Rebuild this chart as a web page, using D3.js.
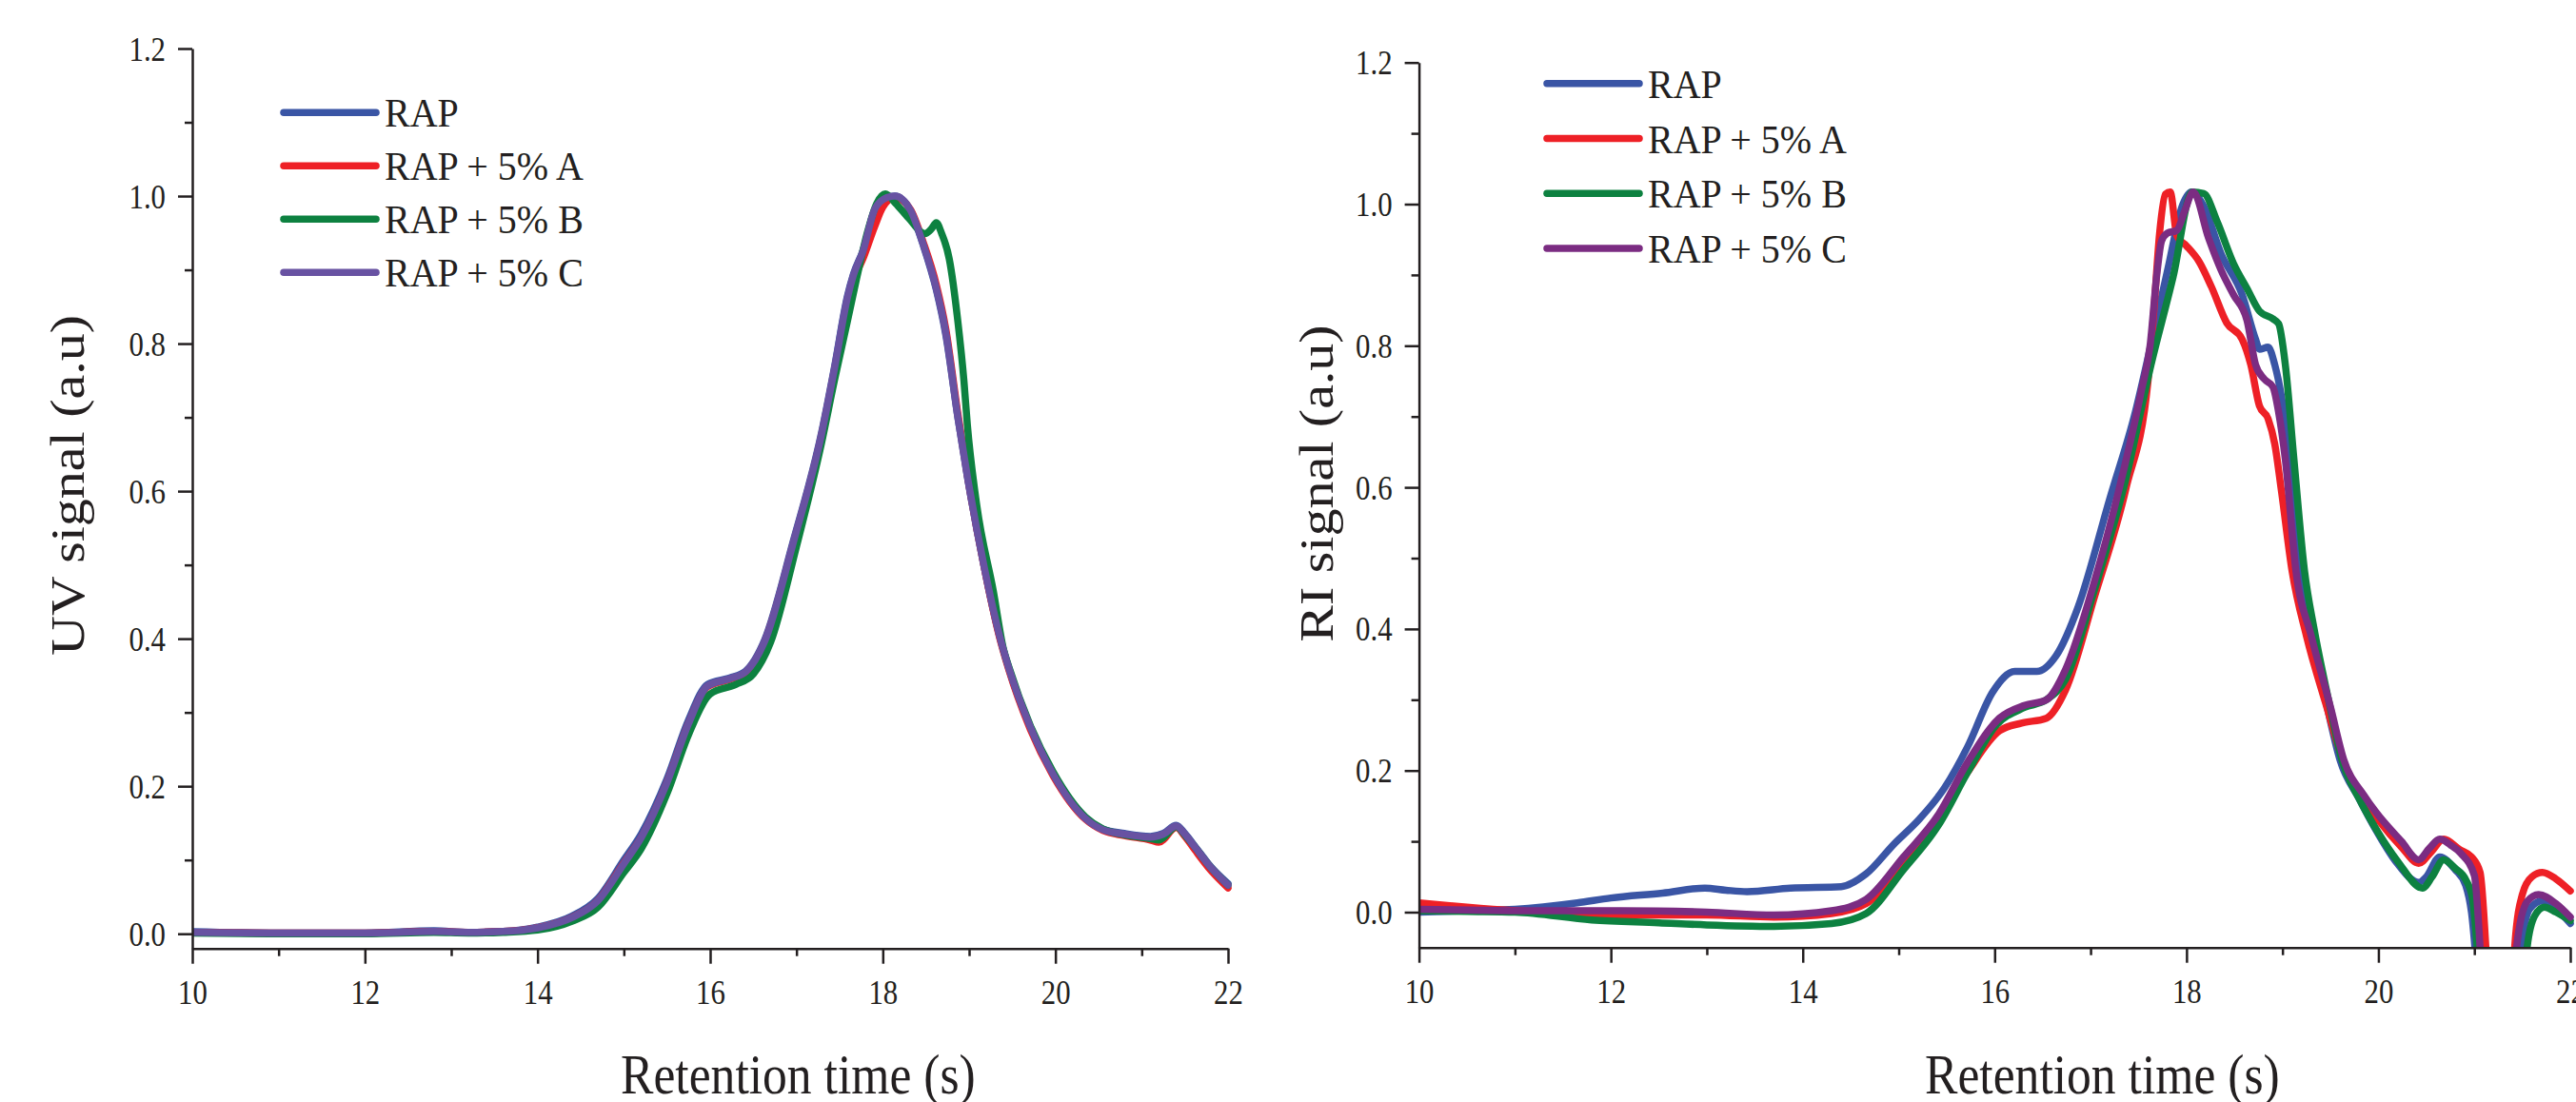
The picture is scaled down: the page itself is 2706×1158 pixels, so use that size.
<!DOCTYPE html>
<html>
<head>
<meta charset="utf-8">
<script src="https://cdn.jsdelivr.net/npm/d3@7"></script>
<style>
body { margin: 0; background: #fff; }
text { font-family: "Liberation Serif", "Times New Roman", serif; fill: #231F20; }
</style>
</head>
<body>
<div id="container"></div>
<script>
let w = 2706;
let h = 1158;

// series names + colours (left and right purple differ a bit)
let seriesNames = ["RAP", "RAP + 5% A", "RAP + 5% B", "RAP + 5% C"];
let colorsUV = ["#3A55A5", "#EE2026", "#0D8140", "#6852A2"];
let colorsRI = ["#3A55A5", "#EE2026", "#0D8140", "#7B2C82"];

let xMajor = [10, 12, 14, 16, 18, 20, 22];
let xMinor = [11, 13, 15, 17, 19, 21];
let yMajor = [0, 0.2, 0.4, 0.6, 0.8, 1.0, 1.2];
let yMinor = [0.1, 0.3, 0.5, 0.7, 0.9, 1.1];

// UV signal  [retention time (s), signal (a.u)]
let uvRAP = [[10,0.003],[11,0.001],[12,0.001],[12.8,0.004],[13.2,0.002],[13.6,0.003],[14,0.009],[14.4,0.024],[14.7,0.048],[15,0.1],[15.2,0.135],[15.5,0.21],[15.75,0.29],[15.97,0.338],[16.23,0.347],[16.41,0.356],[16.63,0.398],[16.96,0.531],[17.29,0.679],[17.44,0.768],[17.59,0.864],[17.66,0.894],[17.77,0.926],[17.91,0.982],[18.05,0.998],[18.14,1.0],[18.32,0.98],[18.47,0.933],[18.62,0.873],[18.73,0.812],[18.87,0.7],[18.98,0.62],[19.17,0.5],[19.35,0.405],[19.46,0.36],[19.71,0.28],[19.97,0.218],[20.35,0.157],[20.55,0.142],[20.8,0.136],[21.1,0.132],[21.25,0.136],[21.4,0.147],[21.5,0.136],[21.62,0.118],[21.8,0.091],[22,0.068]];
let uvA = [[10,0.002],[11,0.001],[12,0.001],[12.8,0.003],[13.2,0.002],[13.6,0.003],[14,0.008],[14.4,0.022],[14.7,0.045],[15,0.096],[15.2,0.13],[15.5,0.205],[15.75,0.285],[15.97,0.335],[16.23,0.345],[16.41,0.354],[16.63,0.395],[16.96,0.527],[17.29,0.675],[17.44,0.763],[17.59,0.855],[17.66,0.885],[17.77,0.915],[17.91,0.96],[18.0,0.985],[18.14,0.998],[18.32,0.982],[18.47,0.937],[18.62,0.88],[18.73,0.82],[18.87,0.705],[18.98,0.622],[19.17,0.5],[19.35,0.403],[19.46,0.358],[19.71,0.277],[19.97,0.215],[20.35,0.155],[20.55,0.14],[20.8,0.133],[21.1,0.127],[21.2,0.124],[21.4,0.144],[21.5,0.132],[21.62,0.113],[21.8,0.086],[22,0.062]];
let uvB = [[10,0.001],[11,0.0],[12,0.0],[12.8,0.002],[13.2,0.001],[13.6,0.002],[14,0.005],[14.4,0.017],[14.7,0.036],[15,0.083],[15.2,0.115],[15.5,0.19],[15.75,0.27],[16.0,0.325],[16.3,0.338],[16.5,0.352],[16.7,0.395],[17.0,0.525],[17.29,0.665],[17.44,0.75],[17.59,0.83],[17.7,0.89],[17.82,0.95],[17.93,0.99],[18.03,1.003],[18.15,0.99],[18.3,0.97],[18.49,0.949],[18.56,0.955],[18.62,0.964],[18.68,0.95],[18.77,0.915],[18.87,0.83],[18.94,0.75],[18.98,0.69],[19.09,0.58],[19.28,0.465],[19.4,0.385],[19.46,0.362],[19.71,0.282],[19.97,0.22],[20.35,0.158],[20.55,0.142],[20.8,0.134],[21.1,0.129],[21.2,0.127],[21.4,0.145],[21.5,0.134],[21.62,0.117],[21.8,0.09],[22,0.066]];
let uvC = [[10,0.002],[11,0.001],[12,0.001],[12.8,0.003],[13.2,0.002],[13.6,0.003],[14,0.008],[14.4,0.022],[14.7,0.045],[15,0.095],[15.2,0.13],[15.5,0.205],[15.75,0.285],[15.97,0.336],[16.23,0.346],[16.41,0.355],[16.63,0.396],[16.96,0.529],[17.29,0.677],[17.44,0.766],[17.59,0.862],[17.66,0.893],[17.77,0.925],[17.91,0.983],[18.05,0.998],[18.14,1.0],[18.32,0.981],[18.47,0.934],[18.62,0.875],[18.73,0.815],[18.87,0.7],[18.98,0.62],[19.17,0.5],[19.35,0.405],[19.46,0.36],[19.71,0.28],[19.97,0.217],[20.35,0.156],[20.55,0.141],[20.8,0.135],[21.1,0.131],[21.25,0.135],[21.4,0.146],[21.5,0.135],[21.62,0.117],[21.8,0.09],[22,0.066]];

// RI signal  [retention time (s), signal (a.u)]
let riRAP = [[10,0.0],[10.5,0.002],[11,0.004],[11.65,0.013],[12,0.02],[12.54,0.027],[12.98,0.034],[13.2,0.031],[13.42,0.029],[13.87,0.034],[14.4,0.036],[14.66,0.054],[14.95,0.096],[15.22,0.132],[15.48,0.176],[15.72,0.234],[15.98,0.311],[16.21,0.34],[16.44,0.34],[16.64,0.362],[16.87,0.431],[17.2,0.584],[17.47,0.708],[17.63,0.802],[17.8,0.905],[17.96,0.999],[18.05,1.017],[18.18,0.997],[18.36,0.93],[18.58,0.872],[18.72,0.809],[18.76,0.795],[18.85,0.798],[18.92,0.773],[18.99,0.728],[19.08,0.639],[19.19,0.482],[19.3,0.4],[19.45,0.3],[19.6,0.215],[19.8,0.16],[20.0,0.11],[20.19,0.07],[20.42,0.042],[20.5,0.05],[20.64,0.078],[20.8,0.06],[20.91,0.038],[20.97,0.0],[21.05,-0.12],[21.25,-0.35],[21.42,-0.2],[21.49,-0.05],[21.58,0.005],[21.71,0.016],[21.85,0.005],[22,-0.016]];
let riA = [[10,0.013],[10.5,0.007],[11,0.002],[12.1,-0.004],[13,-0.004],[13.7,-0.007],[14.3,-0.002],[14.66,0.012],[15.05,0.07],[15.4,0.128],[15.72,0.198],[16.05,0.256],[16.28,0.267],[16.54,0.274],[16.74,0.314],[17.04,0.445],[17.37,0.599],[17.6,0.752],[17.66,0.85],[17.72,0.96],[17.78,1.014],[17.83,1.017],[17.9,0.955],[18.0,0.941],[18.13,0.919],[18.26,0.883],[18.42,0.832],[18.58,0.809],[18.67,0.773],[18.76,0.715],[18.85,0.697],[18.92,0.661],[18.99,0.594],[19.1,0.482],[19.25,0.39],[19.45,0.295],[19.63,0.215],[19.82,0.165],[20.0,0.13],[20.24,0.092],[20.42,0.069],[20.55,0.085],[20.68,0.103],[20.85,0.088],[20.97,0.078],[21.06,0.056],[21.12,-0.05],[21.2,-0.3],[21.35,-0.25],[21.42,-0.05],[21.5,0.025],[21.6,0.05],[21.71,0.056],[21.85,0.047],[22,0.03]];
let riB = [[10,0.002],[10.5,0.001],[11,0.0],[11.8,-0.011],[12.5,-0.015],[13,-0.018],[13.7,-0.02],[14.3,-0.016],[14.66,-0.002],[15.05,0.06],[15.42,0.124],[15.72,0.198],[16.01,0.263],[16.31,0.289],[16.54,0.3],[16.74,0.329],[17.04,0.455],[17.37,0.613],[17.63,0.773],[17.86,0.897],[18.06,1.017],[18.18,1.015],[18.32,0.975],[18.49,0.916],[18.63,0.881],[18.76,0.849],[18.9,0.838],[18.96,0.831],[19.03,0.773],[19.12,0.639],[19.23,0.482],[19.33,0.4],[19.48,0.3],[19.62,0.215],[19.8,0.16],[20.0,0.112],[20.2,0.072],[20.46,0.034],[20.56,0.05],[20.68,0.074],[20.8,0.062],[20.91,0.046],[20.98,0.02],[21.06,-0.1],[21.25,-0.35],[21.45,-0.3],[21.55,-0.05],[21.63,-0.005],[21.73,0.007],[21.85,0.0],[22,-0.012]];
let riC = [[10,0.004],[10.5,0.003],[11,0.002],[12.1,0.002],[13,0.0],[13.7,-0.004],[14.3,0.002],[14.66,0.018],[15.05,0.078],[15.42,0.139],[15.72,0.212],[16.05,0.274],[16.31,0.292],[16.54,0.3],[16.74,0.343],[17.04,0.467],[17.3,0.599],[17.53,0.737],[17.62,0.8],[17.69,0.9],[17.74,0.948],[17.8,0.959],[17.9,0.963],[17.98,0.99],[18.07,1.017],[18.23,0.952],[18.36,0.907],[18.49,0.872],[18.63,0.836],[18.72,0.773],[18.81,0.753],[18.9,0.742],[18.96,0.706],[19.03,0.639],[19.14,0.482],[19.3,0.39],[19.5,0.29],[19.64,0.215],[19.85,0.165],[19.97,0.142],[20.24,0.1],[20.42,0.074],[20.53,0.09],[20.64,0.103],[20.75,0.095],[20.86,0.083],[21.0,0.052],[21.06,-0.05],[21.15,-0.3],[21.35,-0.3],[21.44,-0.05],[21.55,0.015],[21.67,0.025],[21.85,0.012],[22,-0.007]];

let viz = d3.select("#container").append("svg")
    .attr("width", w)
    .attr("height", h)
    .style("background-color", "white");

let defs = viz.append("defs");

function drawPanel(p) {
    let x = d3.scaleLinear().domain([10, 22]).range([p.left, p.right]);
    let y = d3.scaleLinear().domain([p.ymin, 1.2]).range([p.bottom, p.top]);

    defs.append("clipPath").attr("id", p.id)
        .append("rect")
        .attr("x", p.left)
        .attr("y", p.top - 30)
        .attr("width", p.right - p.left + 6)
        .attr("height", p.bottom - p.top + 30);

    // curves
    let lineMaker = d3.line()
        .x(d => x(d[0]))
        .y(d => y(d[1]))
        .curve(d3.curveMonotoneX);

    viz.append("g").attr("clip-path", "url(#" + p.id + ")")
        .selectAll("path").data(p.series).enter()
        .append("path")
            .attr("d", lineMaker)
            .attr("fill", "none")
            .attr("stroke", (d, i) => p.colors[i])
            .attr("stroke-width", 7.5)
            .attr("stroke-linejoin", "round")
            .attr("stroke-linecap", "round");

    // x axis
    let xAxis = viz.append("g")
        .attr("transform", "translate(0," + p.bottom + ")")
        .call(d3.axisBottom(x).tickValues(xMajor).tickSize(16).tickSizeOuter(0).tickFormat(d3.format("d")));
    viz.append("g")
        .attr("transform", "translate(0," + p.bottom + ")")
        .call(d3.axisBottom(x).tickValues(xMinor).tickSize(8).tickFormat(""))
        .call(g => g.select(".domain").remove());
    xAxis.selectAll("text")
        .attr("y", 58)
        .attr("dy", null)
        .attr("font-size", 35)
        .attr("transform", "scale(0.88,1)");

    // y axis
    let yAxis = viz.append("g")
        .attr("transform", "translate(" + p.left + ",0)")
        .call(d3.axisLeft(y).tickValues(yMajor).tickSize(15).tickSizeOuter(0).tickFormat(d3.format(".1f")));
    viz.append("g")
        .attr("transform", "translate(" + p.left + ",0)")
        .call(d3.axisLeft(y).tickValues(yMinor).tickSize(8).tickFormat(""))
        .call(g => g.select(".domain").remove());
    yAxis.selectAll("text")
        .attr("x", -28 / 0.88)
        .attr("dy", null)
        .attr("y", 12)
        .attr("font-size", 35)
        .attr("transform", "scale(0.88,1)");

    viz.selectAll(".domain, .tick line")
        .attr("stroke", "#231F20")
        .attr("stroke-width", 2.5);

    // legend
    p.series.forEach((s, i) => {
        let ly = p.legY + i * p.legStep;
        viz.append("line")
            .attr("x1", p.legX).attr("x2", p.legX + 97)
            .attr("y1", ly).attr("y2", ly)
            .attr("stroke", p.colors[i])
            .attr("stroke-width", 7.5)
            .attr("stroke-linecap", "round");
        viz.append("text")
            .attr("transform", "translate(" + (p.legX + 106) + "," + (ly + 15) + ") scale(0.93,1)")
            .attr("font-size", 43)
            .text(seriesNames[i]);
    });

    // axis titles
    viz.append("text")
        .attr("transform", "translate(" + p.xTitleX + ",1149) scale(0.875,1)")
        .attr("font-size", 59)
        .text("Retention time (s)");
    viz.append("text")
        .attr("transform", "translate(" + p.yTitleX + "," + p.yTitleY + ") scale(0.875,1) rotate(-90)")
        .attr("text-anchor", "middle")
        .attr("font-size", 58)
        .text(p.yTitle);
}

drawPanel({
    id: "clipUV", left: 202, right: 1290, top: 51, bottom: 996.7, ymin: -0.02,
    series: [uvRAP, uvA, uvB, uvC], colors: colorsUV,
    legX: 298, legY: 118.3, legStep: 56,
    xTitleX: 652, yTitleX: 88, yTitleY: 510, yTitle: "UV signal (a.u)"
});

drawPanel({
    id: "clipRI", left: 1490.6, right: 2700, top: 65.7, bottom: 995.7, ymin: -0.05,
    series: [riRAP, riA, riB, riC], colors: colorsRI,
    legX: 1625, legY: 87.7, legStep: 57.8,
    xTitleX: 2022, yTitleX: 1400, yTitleY: 508, yTitle: "RI signal (a.u)"
});
</script>
</body>
</html>
